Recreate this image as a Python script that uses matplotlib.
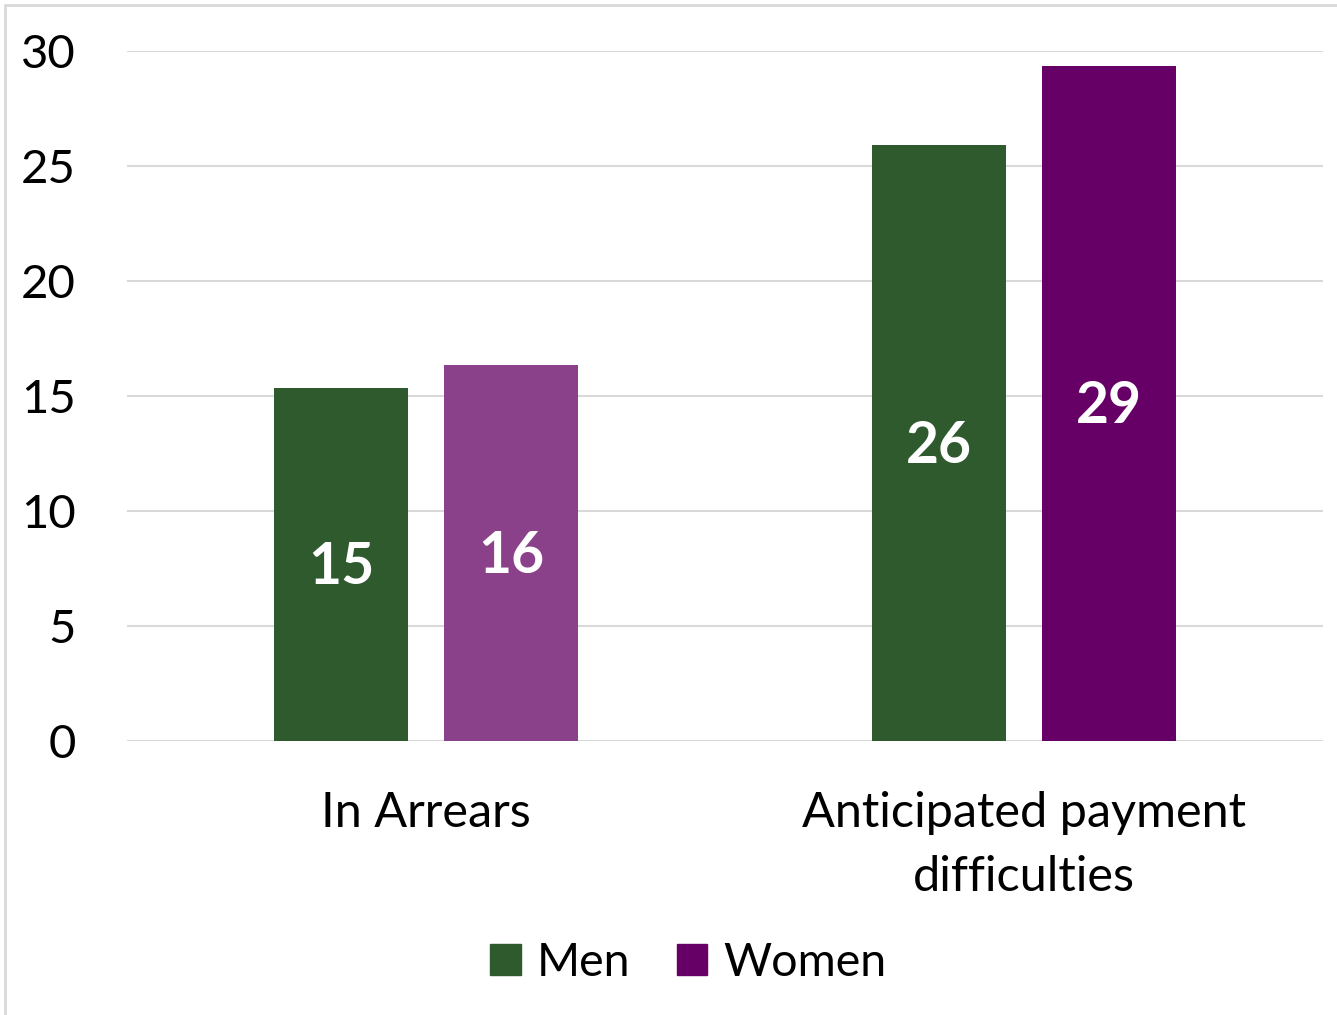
import matplotlib.pyplot as plt
import numpy as np
from matplotlib.patches import Rectangle, Patch

plt.rcParams['font.family'] = ['Lato', 'DejaVu Sans']

categories = ["In Arrears", "Anticipated payment\ndifficulties"]
men = [15.35, 25.9]
women = [16.35, 29.35]
men_colors = ["#2E5A2E", "#2E5A2E"]
women_colors = ["#8B4189", "#660066"]

fig = plt.figure(figsize=(13.37, 10.15), dpi=100)
ax = fig.add_axes([0.095, 0.27, 0.8945, 0.68])

x = np.arange(len(categories))
w = 0.224
off = 0.142
b1 = ax.bar(x - off, men, w, color=men_colors, label="Men", zorder=2)
b2 = ax.bar(x + off, women, w, color=women_colors, label="Women", zorder=2)

for bars, vals in ((b1, men), (b2, women)):
    for bar, v in zip(bars, vals):
        ax.text(bar.get_x() + bar.get_width() / 2, v / 2 - 0.15, f"{round(v)}",
                ha="center", va="center", color="white", fontsize=41, fontweight="bold")

ax.set_ylim(0, 30)
ax.set_xlim(-0.5, 1.5)
ax.set_yticks(range(0, 31, 5))
ax.yaxis.grid(True, color="#D9D9D9", linewidth=1.5, zorder=0)
ax.set_axisbelow(True)
for s in ax.spines.values():
    s.set_visible(False)
ax.tick_params(axis="y", length=0, labelsize=34, pad=37)
ax.set_xticks(x)
ax.set_xticklabels(categories, linespacing=1.55)
ax.tick_params(axis="x", length=0, labelsize=35, pad=36)

handles = [Patch(color="#2E5A2E", label="Men"), Patch(color="#660066", label="Women")]
fig.legend(handles=handles, loc="center", bbox_to_anchor=(0.515, 0.051), ncol=2,
           frameon=False, fontsize=33.5, handlelength=0.65, handleheight=0.65,
           handletextpad=0.35, columnspacing=1.0)

# light chart border
fig.patches.append(Rectangle((5 / 1337, -0.01), 1.02, 1 - 5 / 1015 + 0.01,
                             transform=fig.transFigure, fill=False,
                             edgecolor="#D9D9D9", linewidth=2))

fig.savefig("out.png", dpi=100)
